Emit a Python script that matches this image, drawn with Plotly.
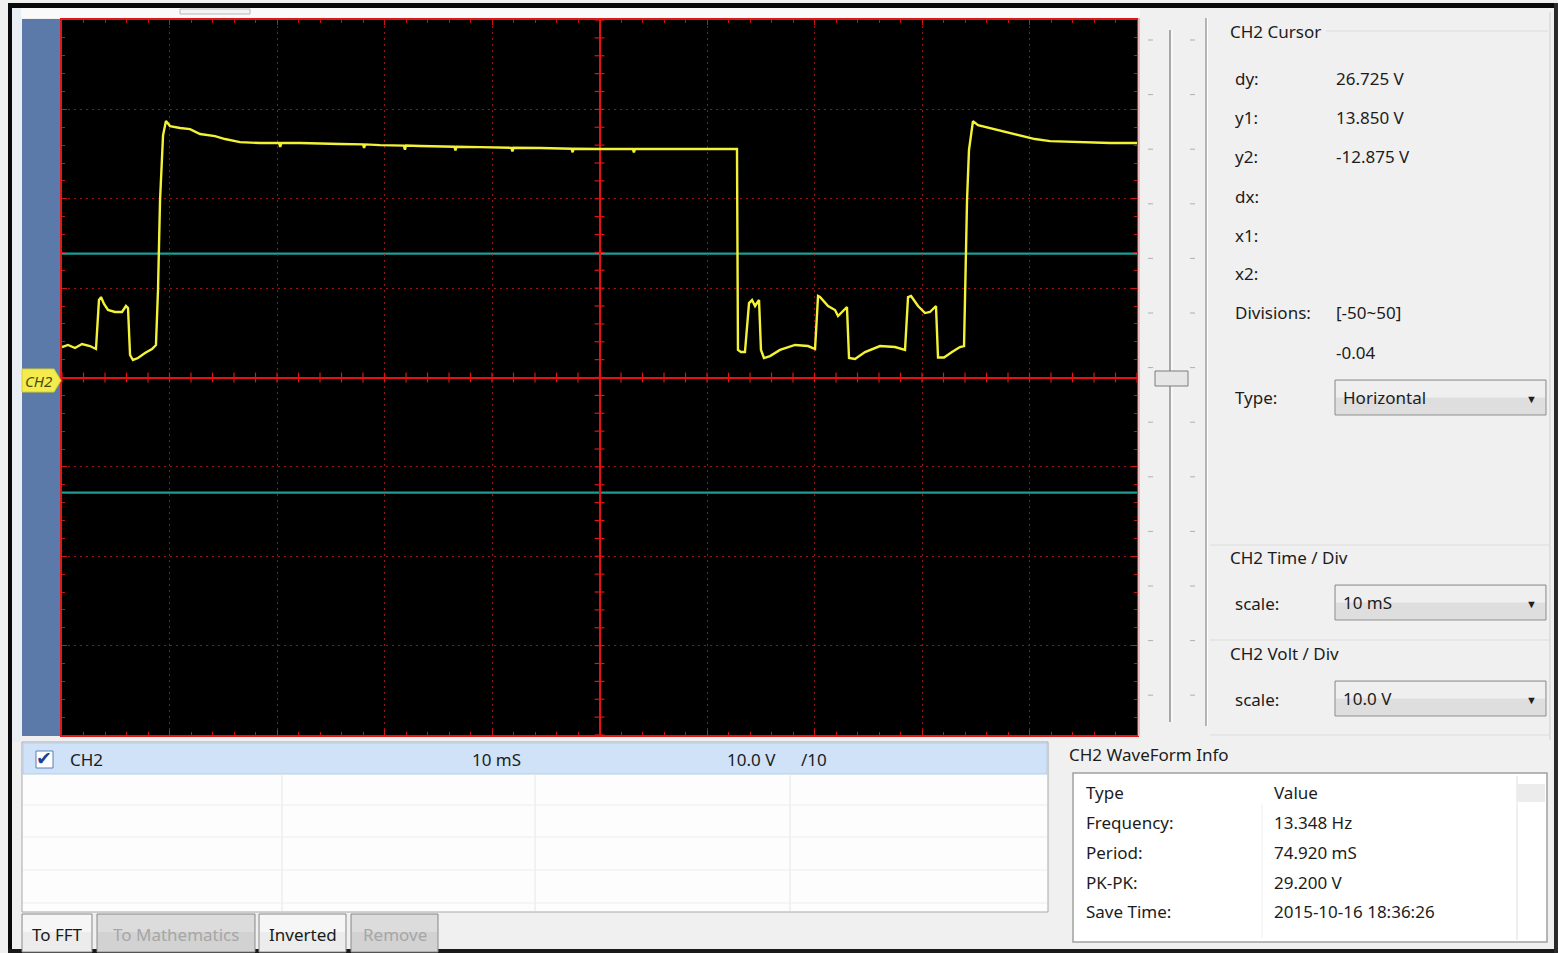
import plotly.graph_objects as go

W, H = 1558, 953

# ---------------- data ----------------
# CH2 waveform: time in ms (10 mS/div, screen spans -50..50 ms), voltage in V (10 V/div)
TIME_MS = [
    -50.00, -49.44, -48.79, -48.14, -47.40, -46.84, -46.56, -46.37, -46.09, -45.72,
    -45.07, -44.42, -44.05, -43.86, -43.67, -43.40, -42.93, -42.28, -41.63, -41.26,
    -41.07, -40.88, -40.60, -40.33, -39.95, -39.02, -38.09, -37.16, -35.77, -34.84,
    -33.44, -31.58, -29.80, -29.70, -29.60, -27.86, -24.14, -22.00, -21.90, -21.80,
    -20.42, -18.20, -18.10, -18.00, -16.70, -13.50, -13.40, -13.30, -11.12, -8.20,
    -8.10, -8.00, -5.53, -2.60, -2.50, -2.40, 0.05, 3.10, 3.20, 3.30,
    7.49, 12.79, 12.88, 13.16, 13.53, 13.91, 14.19, 14.47, 14.84, 15.02,
    15.30, 15.86, 16.79, 18.19, 19.40, 20.05, 20.33, 20.51, 21.26, 21.91,
    22.19, 22.56, 23.02, 23.21, 23.77, 24.70, 26.09, 27.49, 28.42, 28.70,
    28.98, 29.63, 30.28, 30.74, 31.30, 31.49, 32.05, 32.79, 33.53, 33.91,
    34.00, 34.19, 34.37, 34.74, 35.21, 36.33, 37.72, 39.12, 40.51, 41.91,
    44.70, 47.49, 50.00,
]
VOLTS = [
    3.41, 3.64, 3.30, 3.75, 3.52, 3.19, 8.67, 9.00, 8.22, 7.55,
    7.33, 7.33, 8.00, 7.77, 2.52, 1.96, 2.18, 2.74, 3.19, 3.64,
    9.79, 19.85, 27.10, 28.69, 28.13, 27.91, 27.79, 27.24, 27.01, 26.68,
    26.34, 26.23, 26.23, 25.80, 26.23, 26.23, 26.12, 26.08, 25.70, 26.08,
    26.00, 25.95, 25.50, 25.95, 25.90, 25.82, 25.40, 25.82, 25.78, 25.70,
    25.30, 25.70, 25.67, 25.60, 25.20, 25.60, 25.56, 25.56, 25.20, 25.56,
    25.56, 25.56, 3.08, 2.85, 2.85, 8.33, 8.67, 8.00, 8.67, 3.08,
    2.18, 2.40, 3.08, 3.64, 3.52, 3.19, 9.12, 9.00, 8.00, 7.55,
    6.88, 7.33, 7.89, 2.18, 2.07, 2.85, 3.52, 3.41, 3.08, 9.00,
    9.12, 8.00, 7.21, 7.33, 8.00, 2.24, 2.24, 2.85, 3.41, 3.52,
    8.67, 19.85, 25.45, 28.69, 28.24, 27.91, 27.57, 27.13, 26.68, 26.45,
    26.34, 26.23, 26.23,
]
CURSOR_Y1 = 13.850
CURSOR_Y2 = -12.875
X_RANGE = [-50, 50]
Y_RANGE = [-40, 40]
TIME_DIV = 10
VOLT_DIV = 10

CURSOR_LABELS = ["dy:", "y1:", "y2:", "dx:", "x1:", "x2:", "Divisions:", ""]
CURSOR_VALUES = ["26.725 V", "13.850 V", "-12.875 V", "", "", "", "[-50~50]", "-0.04"]
INFO_TYPES = ["Type", "Frequency:", "Period:", "PK-PK:", "Save Time:"]
INFO_VALUES = ["Value", "13.348 Hz", "74.920 mS", "29.200 V", "2015-10-16 18:36:26"]
CHANNEL_ROW = ["CH2", "10 mS", "10.0 V", "/10"]
BUTTONS = ["To FFT", "To Mathematics", "Inverted", "Remove"]

FONT = "Noto Sans"
TXT = "#1c1c1c"


def X(p):
    return p / W


def Y(p):
    return 1 - p / H


fig = go.Figure()

# waveform
fig.add_trace(go.Scatter(x=TIME_MS, y=VOLTS, mode="lines",
                         line=dict(color="#f3f236", width=2.4),
                         hoverinfo="skip", showlegend=False))

# small tick marks along the centre cross
cx = [X_RANGE[0] + i * TIME_DIV / 5 for i in range(int((X_RANGE[1] - X_RANGE[0]) / (TIME_DIV / 5)) + 1)]
cy = [Y_RANGE[0] + i * VOLT_DIV / 5 for i in range(int((Y_RANGE[1] - Y_RANGE[0]) / (VOLT_DIV / 5)) + 1)]
fig.add_trace(go.Scatter(x=cx, y=[0] * len(cx), mode="markers",
                         marker=dict(symbol="line-ns", size=7, line=dict(color="#e81010", width=1.2)),
                         hoverinfo="skip", showlegend=False))
fig.add_trace(go.Scatter(x=[0] * len(cy), y=cy, mode="markers",
                         marker=dict(symbol="line-ew", size=7, line=dict(color="#e81010", width=1.2)),
                         hoverinfo="skip", showlegend=False))

# cursors
fig.add_hline(y=CURSOR_Y1, line=dict(color="#1c9e95", width=2.2), layer="below")
fig.add_hline(y=CURSOR_Y2, line=dict(color="#1c9e95", width=2.2), layer="below")

axis_common = dict(showticklabels=False, showline=True, linecolor="#e01818", linewidth=2,
                   mirror="ticks", ticks="inside", ticklen=5, tickcolor="#d01515", tickwidth=1,
                   showgrid=True, gridcolor="#9a1212", gridwidth=1, griddash="2px,4px",
                   zeroline=True, zerolinecolor="#e81010", zerolinewidth=1.6, fixedrange=True)

fig.update_xaxes(range=X_RANGE, dtick=TIME_DIV, tick0=0,
                 minor=dict(dtick=TIME_DIV / 5, ticks="inside", ticklen=3, tickcolor="#c01515", showgrid=False),
                 domain=[X(62), X(1137)], **axis_common)
fig.update_yaxes(range=Y_RANGE, dtick=VOLT_DIV, tick0=0,
                 minor=dict(dtick=VOLT_DIV / 5, ticks="inside", ticklen=3, tickcolor="#c01515", showgrid=False),
                 domain=[Y(735), Y(20)], **axis_common)

shapes = []
ann = []


def rect(x0, y0, x1, y1, fill, line=None, lw=1):
    shapes.append(dict(type="rect", xref="paper", yref="paper", x0=X(x0), x1=X(x1), y0=Y(y1), y1=Y(y0),
                       fillcolor=fill, line=dict(color=line if line else fill, width=lw if line else 0),
                       layer="above"))


def hline(x0, x1, y, color, w=1):
    shapes.append(dict(type="line", xref="paper", yref="paper", x0=X(x0), x1=X(x1), y0=Y(y), y1=Y(y),
                       line=dict(color=color, width=w)))


def vline(x, y0, y1, color, w=1):
    shapes.append(dict(type="line", xref="paper", yref="paper", x0=X(x), x1=X(x), y0=Y(y0), y1=Y(y1),
                       line=dict(color=color, width=w)))


def text(x, y, s, size=17, color=TXT, anchor="left"):
    ann.append(dict(xref="paper", yref="paper", x=X(x), y=Y(y), text=s, showarrow=False,
                    xanchor=anchor, yanchor="middle", font=dict(family=FONT, size=size, color=color)))


def dropdown(x0, y0, x1, y1, label):
    rect(x0, y0, x1, y1, "#dedede", "#8e8e8e", 1)
    rect(x0 + 1, y0 + 1, x1 - 1, (y0 + y1) / 2, "#efefef")
    text(x0 + 6, (y0 + y1) / 2, label, 17)
    text(x1 - 7, (y0 + y1) / 2 + 1, "▼", 11, "#202020", "right")


# window frame
rect(0, 0, W, 3, "#ffffff")
rect(0, 0, 8, H, "#ffffff")
rect(8, 3, W, 8, "#0a0a0a")
rect(8, 3, 12, H, "#0a0a0a")
rect(8, 949, W, H, "#1a1a1a")
rect(1554, 3, W, H, "#2a2a2a")
rect(12, 8, 1140, 18, "#fafafa")
rect(12, 8, 21, 742, "#e9eef4")
rect(180, 9, 250, 14, "#f4f4f4", "#b8b8b8", 1)

# blue channel strip + CH2 tag
rect(22, 19, 60, 736, "#5b79a9")
shapes.append(dict(type="path", xref="paper", yref="paper",
                   path=f"M {X(22)},{Y(369)} L {X(54)},{Y(369)} L {X(61)},{Y(380.5)} L {X(54)},{Y(392)} L {X(22)},{Y(392)} Z",
                   fillcolor="#f3ec4c", line=dict(color="#d8cf2a", width=1)))
text(23, 381, "<i>CH2</i>", 15, "#4a4a10")

# red frame edge right side
vline(1139, 18, 736, "#f0b8b8", 2)

# slider area
vline(1170, 30, 722, "#a8a8a8", 2)
vline(1172, 30, 722, "#ffffff", 1)
for k in range(13):
    yy = 40 + k * 54.6
    hline(1148, 1153, yy, "#b0b0b0", 1)
    hline(1190, 1195, yy, "#b0b0b0", 1)
rect(1155, 371, 1188, 386, "#e6e6e6", "#7d7d7d", 1)
vline(1206, 18, 726, "#a0a0a0", 1.5)
vline(1207.5, 18, 726, "#ffffff", 1)

# right panel
vline(1550, 12, 740, "#cfcfcf", 1)
hline(1326, 1548, 31, "#dcdcdc", 1)
hline(1210, 1550, 545, "#dcdcdc", 1)
hline(1210, 1550, 640, "#dcdcdc", 1)
hline(1210, 1550, 735, "#dcdcdc", 1)

text(1228, 31, "CH2 Cursor", 17)
label_y = [78, 117, 157, 196, 235, 274, 313, 352]
for lab, val, yy in zip(CURSOR_LABELS, CURSOR_VALUES, label_y):
    if lab:
        text(1233, yy, lab, 17)
    if val:
        text(1334, yy, val, 17)
text(1233, 398, "Type:", 17)
dropdown(1335, 380, 1546, 415, "Horizontal")

text(1228, 557, "CH2 Time / Div", 17)
text(1233, 603, "scale:", 17)
dropdown(1335, 585, 1546, 620, "10 mS")
text(1228, 653, "CH2 Volt / Div", 17)
text(1233, 699, "scale:", 17)
dropdown(1335, 681, 1546, 716, "10.0 V")

# channel table
rect(22, 742, 1048, 912, "#fdfdfd", "#a8a8a8", 1)
rect(23, 743, 1047, 774, "#cfe2f7", "#b4cdea", 1)
for xx in (282, 535, 790):
    vline(xx, 774, 911, "#e6e6e6", 1)
for yy in (805, 837, 870, 903):
    hline(23, 1047, yy, "#ededed", 1)
rect(36, 751, 53, 768, "#ffffff", "#5d7fb5", 1)
text(34, 758, "✔", 19, "#1f3f92")
text(68, 759, CHANNEL_ROW[0], 17)
text(523, 759, CHANNEL_ROW[1], 17, TXT, "right")
text(778, 759, CHANNEL_ROW[2], 17, TXT, "right")
text(799, 759, CHANNEL_ROW[3], 17)

# buttons
btn_x = [(22, 92), (97, 255), (259, 346), (351, 438)]
for (x0, x1), lab in zip(btn_x, BUTTONS):
    enabled = lab in ("To FFT", "Inverted")
    rect(x0, 914, x1, 952, "#ececec" if enabled else "#d2d2d2", "#8c8c8c", 1)
    rect(x0 + 1, 915, x1 - 1, 932, "#f6f6f6" if enabled else "#dcdcdc")
    text((x0 + x1) / 2, 934, lab, 17, "#1a1a1a" if enabled else "#a6a6a6", "center")

# waveform info
text(1067, 754, "CH2 WaveForm Info", 17)
rect(1073, 773, 1547, 942, "#ffffff", "#a0a0a0", 1.5)
vline(1517, 776, 940, "#e0e0e0", 1)
rect(1517, 784, 1545, 802, "#ececec")
vline(1262, 804, 938, "#f0f0f0", 1)
info_y = [792, 822, 852, 882, 911]
for t_, v_, yy in zip(INFO_TYPES, INFO_VALUES, info_y):
    text(1084, yy, t_, 17)
    text(1272, yy, v_, 17)

fig.update_layout(width=W, height=H, margin=dict(l=0, r=0, t=0, b=0),
                  paper_bgcolor="#f0f0f0", plot_bgcolor="#000000",
                  shapes=shapes, annotations=ann, showlegend=False)
fig.write_html("out.html", config={"displayModeBar": False},
               post_script="document.body.style.margin='0px';document.body.style.overflow='hidden';")
